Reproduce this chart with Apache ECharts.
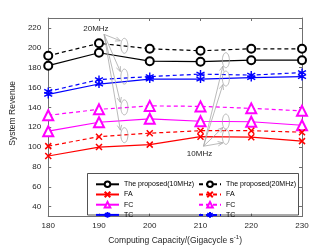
<!DOCTYPE html>
<html><head><meta charset="utf-8">
<script src="https://cdn.jsdelivr.net/npm/echarts@6/dist/echarts.min.js"></script>
<style>html,body{margin:0;padding:0;background:#fff}#c{width:333px;height:250px}</style>
</head><body><div id="c"></div>
<script>
const categories = [180, 190, 200, 210, 220, 230];
const proposed10 = [182, 195, 186.5, 186, 187.5, 187.5];
const proposed20 = [192, 204.5, 199, 197, 199, 199];
const fa10 = [91, 100, 102.5, 110.5, 110, 106];
const fa20 = [101, 110.5, 114, 116.5, 116.5, 115];
const fc10 = [116, 125, 128.5, 126, 125.5, 122];
const fc20 = [132, 138, 141.5, 141, 139, 136.5];
const tc10 = [153, 163.5, 168.5, 168.5, 170, 171];
const tc20 = [156, 168, 171, 173.5, 172.5, 175];
const xTicks = [180, 190, 200, 210, 220, 230];
const yTicks = [40, 60, 80, 100, 120, 140, 160, 180, 200, 220];
// annotation anchors (data coordinates)
const ann20 = {x: 195, ys: [202, 171, 140, 112], text: '20MHz', textAt: [189.4, 219.5], from: [191, 213.5]};
const ann10 = {x: 215, ys: [187.5, 169, 125.7, 110.3], text: '10MHz', textAt: [209.8, 93], from: [210.6, 100.9]};

const FONT = 'Liberation Sans';
const crossSym = 'path://M0,0L10,10M10,0L0,10';
const starSym = 'path://M5,0L5,10M0.7,2.5L9.3,7.5M0.7,7.5L9.3,2.5';

function mk(name, data, color, dashed, symbol, size, bw) {
  return {
    name, type: 'line', data: data.map((v, i) => [categories[i], v]),
    symbol, symbolSize: size,
    lineStyle: {color, width: 1.2, type: dashed ? [4, 3] : 'solid'},
    itemStyle: {color, borderColor: color, borderWidth: bw},
    emphasis: {disabled: true}, animation: false, z: 3
  };
}
const names = {P10: 'The proposed(10MHz)', P20: 'The proposed(20MHz)', FA10: 'FA', FA20: 'FA', FC10: 'FC', FC20: 'FC', TC10: 'TC', TC20: 'TC'};
const series = [
  mk('P10', proposed10, '#000000', false, 'emptyCircle', 8, 1.2),
  mk('FA10', fa10, '#ff0000', false, crossSym, 6, 1.5),
  mk('FC10', fc10, '#ff00ff', false, 'emptyTriangle', 10, 1.2),
  mk('TC10', tc10, '#0000ff', false, starSym, 8, 1.4),
  mk('P20', proposed20, '#000000', true, 'emptyCircle', 8, 1.2),
  mk('FA20', fa20, '#ff0000', true, crossSym, 6, 1.5),
  mk('FC20', fc20, '#ff00ff', true, 'emptyTriangle', 10, 1.2),
  mk('TC20', tc20, '#0000ff', true, starSym, 8, 1.4)
];
const axisCol = '#707070';
const lblStyle = {color: '#262626', fontSize: 8, fontFamily: FONT};
function legend(left, itemWidth, data) {
  return {left, top: 175.5, orient: 'vertical', data, itemWidth, itemHeight: 7, itemGap: 2.6,
    formatter: n => names[n], textStyle: {fontSize: 7, fontFamily: FONT, color: '#000'},
    selectedMode: false, inactiveColor: '#000'};
}
const chart = echarts.init(document.getElementById('c'), null, {renderer: 'canvas'});
chart.setOption({
  animation: false,
  grid: {left: 43, right: 31, top: 18, bottom: 28},
  xAxis: [{
    type: 'value', min: 180, max: 230, position: 'bottom',
    axisLine: {show: true, lineStyle: {color: axisCol, width: 1}},
    axisTick: {show: true, inside: true, length: 3, customValues: xTicks, lineStyle: {color: axisCol}},
    axisLabel: {customValues: xTicks, margin: 5, ...lblStyle},
    splitLine: {show: false},
    name: 'Computing Capacity/(Gigacycle s{sup|-1})', nameLocation: 'middle', nameGap: 13,
    nameTextStyle: {fontSize: 8.5, fontFamily: FONT, color: '#262626',
      rich: {sup: {fontSize: 6, verticalAlign: 'top', padding: [0, 0, 6, 0], fontFamily: FONT, color: '#262626'}}}
  }, {
    type: 'value', min: 180, max: 230, position: 'top',
    axisLine: {show: true, onZero: false, lineStyle: {color: axisCol, width: 1}},
    axisTick: {show: true, inside: true, length: 3, customValues: xTicks, lineStyle: {color: axisCol}},
    axisLabel: {show: false}, splitLine: {show: false}
  }],
  yAxis: [{
    type: 'value', min: 30, max: 230, position: 'left',
    axisLine: {show: true, lineStyle: {color: axisCol, width: 1}},
    axisTick: {show: true, inside: true, length: 3, customValues: yTicks, lineStyle: {color: axisCol}},
    axisLabel: {customValues: yTicks, margin: 7, ...lblStyle},
    splitLine: {show: false},
    name: 'System Revenue', nameLocation: 'middle', nameGap: 14,
    nameTextStyle: {fontSize: 8.5, fontFamily: FONT, color: '#262626', padding: [0, 0, 0, 8]}
  }, {
    type: 'value', min: 30, max: 230, position: 'right',
    axisLine: {show: true, onZero: false, lineStyle: {color: axisCol, width: 1}},
    axisTick: {show: true, inside: true, length: 3, customValues: yTicks, lineStyle: {color: axisCol}},
    axisLabel: {show: false}, splitLine: {show: false}
  }],
  legend: [legend(90, 23, ['P10', 'FA10', 'FC10', 'TC10']), legend(193, 22, ['P20', 'FA20', 'FC20', 'TC20'])],
  series
});

// annotations
const g = [];
const gray = '#a8a8a8';
function px(x, y) { return chart.convertToPixel({xAxisIndex: 0, yAxisIndex: 0}, [x, y]); }
function arrow(from, to) {
  const dx = to[0] - from[0], dy = to[1] - from[1];
  const L = Math.hypot(dx, dy), ux = dx / L, uy = dy / L;
  const h = 5, w = 2.2;
  const bx = to[0] - ux * h, by = to[1] - uy * h;
  g.push({type: 'line', shape: {x1: from[0], y1: from[1], x2: to[0], y2: to[1]}, style: {stroke: gray, lineWidth: 0.8}, silent: true, z: 10});
  g.push({type: 'polyline', shape: {points: [[bx - uy * w, by + ux * w], to, [bx + uy * w, by - ux * w]]}, style: {stroke: gray, lineWidth: 0.8, fill: null}, silent: true, z: 10});
}
function group(a, off) {
  const o = px(a.from[0], a.from[1]);
  const t = px(a.textAt[0], a.textAt[1]);
  g.push({type: 'text', x: t[0], y: t[1], style: {text: a.text, fontSize: 8, fontFamily: FONT, fill: '#262626', align: 'center', verticalAlign: 'middle'}, z: 10});
  a.ys.forEach(v => {
    const c = px(a.x, v);
    g.push({type: 'ellipse', shape: {cx: c[0], cy: c[1], rx: 3.5, ry: 7.5}, style: {stroke: gray, fill: null, lineWidth: 0.8}, silent: true, z: 10});
    arrow(o, [c[0] + off[0], c[1] + off[1]]);
  });
}
group(ann20, [-4, -5]);
group(ann10, [-3, 6]);
g.push({type: 'rect', shape: {x: 87.5, y: 173.5, width: 211, height: 41.5}, style: {stroke: '#262626', fill: null, lineWidth: 0.8}, z: 1});
chart.setOption({graphic: g});
</script></body></html>
